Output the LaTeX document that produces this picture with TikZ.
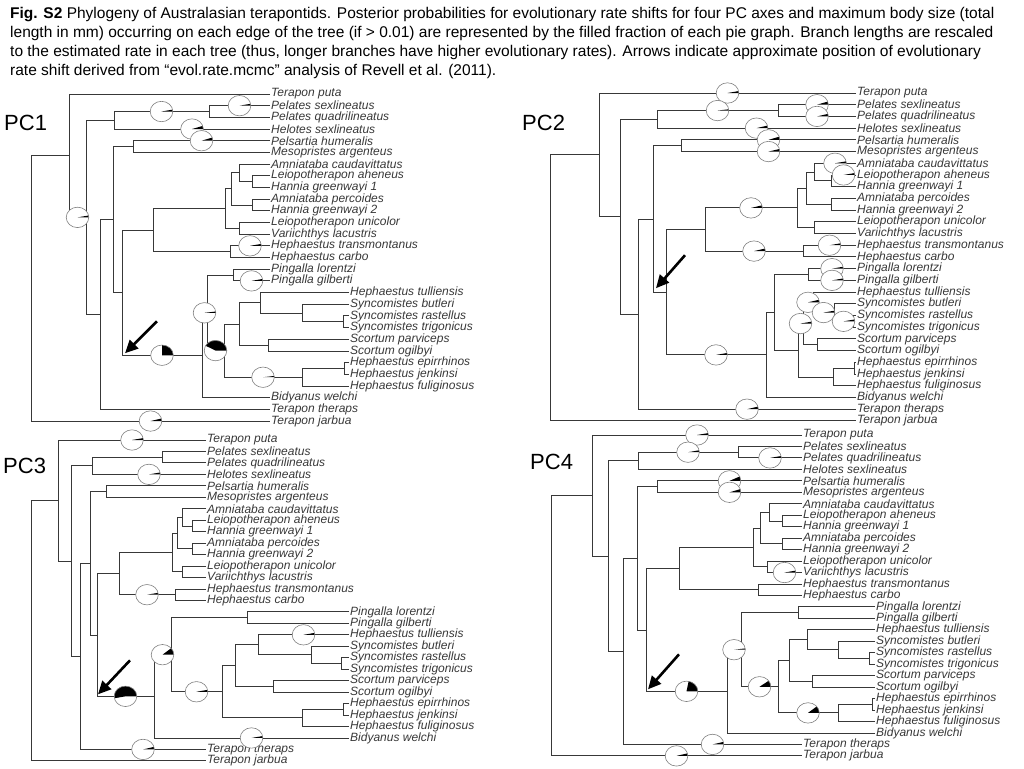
\documentclass[tikz,border=0pt]{standalone}
\usepackage{fontspec}
\setmainfont{Liberation Sans}
\usetikzlibrary{calc,arrows.meta}

% altura de cada nodo interno (en filas de puntas)
\foreach \n/\i in {root/16.6410, puta/5.2820, mid/10.5640, hel/2.25, pel/1.5,
  the/18.8779, pmb/10.7559, pm/4.5, big/17.0117, up/11.6563, leio/9.8125,
  am/8.125, ac/6.75, lh1/7.5, ah2/9.5, lv/11.5, hc/13.5, bid/22.3672,
  pl/18.7344, ping/15.5, low/21.9688, ss/19.6875, tull/17.875, sb/18.75,
  rt/19.5, sc/21.5, ful/24.25, ej/23.5}
  {\expandafter\xdef\csname nodey\n\endcsname{\i}}

\tikzset{
  branch/.style={draw=black!78, line width=0.9pt},
  tiplabel/.style={anchor=west, inner sep=0pt, xshift=1pt, text=black!78,
    font=\fontsize{12}{12}\selectfont\itshape},
  pieedge/.style={draw=black!50, line width=0.6pt},
  shiftarrow/.style={-{Triangle[length=13pt,width=12pt]}, line width=2.6pt},
  panellabel/.style={anchor=west, inner sep=0pt, font=\fontsize{22}{24}\selectfont},
  caption/.style={anchor=north west, inner sep=0pt, align=left,
    font=\fontsize{15.5}{19}\selectfont},
}

% arbol: prefijo, y de la primera punta, paso, x puntas, x puntas largas, desde, hasta, x nodos
\newcommand{\phylotree}[8]{%
  \foreach \i in {0,...,28} {
    \pgfmathsetmacro\tipx{(\i>=#6 && \i<=#7) ? #5 : #4}
    \coordinate (#1t\i) at (\tipx, {#2+#3*\i});
  }
  \foreach \n/\x in {#8} {
    \edef\yi{\csname nodey\n\endcsname}
    \coordinate (#1\n) at (\x, {#2+#3*\yi});
  }
  \foreach \p/\a/\b in {root/puta/t28, puta/t0/mid, mid/hel/the, hel/pel/t3,
    pel/t1/t2, the/pmb/t27, pmb/pm/big, pm/t4/t5, big/up/bid, up/leio/hc,
    leio/am/lv, am/ac/ah2, ac/t6/lh1, lh1/t7/t8, ah2/t9/t10, lv/t11/t12,
    hc/t13/t14, bid/pl/t26, pl/ping/low, ping/t15/t16, low/ss/ful,
    ss/tull/sc, tull/t17/sb, sb/t18/rt, rt/t19/t20, sc/t21/t22, ful/ej/t25,
    ej/t23/t24}
    \draw[branch] (#1\a) -- (#1\p|-#1\a) -- (#1\p|-#1\b) -- (#1\b);
  \foreach \i/\s in {0/Terapon puta, 1/Pelates sexlineatus,
    2/Pelates quadrilineatus, 3/Helotes sexlineatus, 4/Pelsartia humeralis,
    5/Mesopristes argenteus, 6/Amniataba caudavittatus,
    7/Leiopotherapon aheneus, 8/Hannia greenwayi 1, 9/Amniataba percoides,
    10/Hannia greenwayi 2, 11/Leiopotherapon unicolor,
    12/Variichthys lacustris, 13/Hephaestus transmontanus,
    14/Hephaestus carbo, 15/Pingalla lorentzi, 16/Pingalla gilberti,
    17/Hephaestus tulliensis, 18/Syncomistes butleri,
    19/Syncomistes rastellus, 20/Syncomistes trigonicus,
    21/Scortum parviceps, 22/Scortum ogilbyi, 23/Hephaestus epirrhinos,
    24/Hephaestus jenkinsi, 25/Hephaestus fuliginosus, 26/Bidyanus welchi,
    27/Terapon theraps, 28/Terapon jarbua}
    \node[tiplabel] (#1l\i) at (#1t\i) {\s};
}

% pies sobre el centro de cada rama: padre/hijo/fraccion
\newcommand{\edgepies}[2]{%
  \foreach \p/\c/\f in {#2} {
    \coordinate (#1pie) at ($(#1\p|-#1\c)!0.5!(#1\c)$);
    \fill[white] (#1pie) ellipse[x radius=11.3pt, y radius=10.2pt];
    \fill[black] (#1pie) -- ++(0:11.3pt)
      arc[start angle=0, end angle=\f*360, x radius=11.3pt, y radius=10.2pt] -- cycle;
    \draw[pieedge] (#1pie) ellipse[x radius=11.3pt, y radius=10.2pt];
  }
}

\begin{document}
\begin{tikzpicture}[x=1pt, y=-1pt]
  \useasboundingbox (0,0) rectangle (1024,768);

  % Leyenda
  \node[caption] (cap) at (10,7) {\textbf{Fig. S2} Phylogeny of Australasian terapontids. Posterior probabilities for evolutionary rate shifts for four PC axes and maximum body size (total\\
  length in mm) occurring on each edge of the tree (if > 0.01) are represented by the filled fraction of each pie graph. Branch lengths are rescaled\\
  to the estimated rate in each tree (thus, longer branches have higher evolutionary rates). Arrows indicate approximate position of evolutionary\\
  rate shift derived from “evol.rate.mcmc” analysis of Revell et al. (2011).};

  % Arbol PC1
  \phylotree{A}{94}{11.68}{270}{349}{17}{25}{root/31, puta/69, mid/86,
    hel/114, pel/209, the/100, pmb/113, pm/133, big/122, up/153, leio/225,
    am/231, ac/239, lh1/252, ah2/252, lv/239, hc/230, bid/202, pl/207,
    ping/233, low/224, ss/239, tull/260, sb/302, rt/343, sc/268, ful/302,
    ej/344}
  \edgepies{A}{hel/pel/0.03, pel/t1/0.03, hel/t3/0.05, pm/t4/0.05,
    puta/mid/0.03, root/t28/0.04, hc/t13/0.03, ping/t16/0.03, bid/pl/0.02,
    pl/low/0.42, big/bid/0.25, low/ful/0.02}

  % Arbol PC2
  \phylotree{B}{93}{11.71}{856}{856}{0}{28}{root/550, puta/599, mid/620,
    hel/657, pel/778, the/638, pmb/653, pm/681, big/666, up/705, leio/797,
    am/806, ac/814, lh1/831, ah2/831, lv/814, hc/803, bid/766, pl/774,
    ping/808, low/798, ss/803, tull/813, sb/834, rt/853, sc/817, ful/833,
    ej/854}
  \edgepies{B}{puta/t0/0.03, hel/pel/0.02, pel/t1/0.05, pel/t2/0.04,
    hel/t3/0.04, pm/t4/0.05, pm/t5/0.04, ac/t6/0.03, lh1/t7/0.03,
    up/leio/0.04, up/hc/0.04, hc/t13/0.03, ping/t15/0.03, ping/t16/0.03,
    low/ss/0.03, ss/tull/0.04, tull/sb/0.03, sb/rt/0.03, big/bid/0.03,
    the/t27/0.04}

  % Arbol PC3
  \phylotree{C}{440}{11.46}{206}{349}{15}{26}{root/31, puta/58, mid/71,
    hel/92, pel/162, the/80, pmb/90, pm/106, big/97, up/119, leio/172,
    am/177, ac/182, lh1/192, ah2/192, lv/182, hc/175, bid/154, pl/171,
    ping/247, low/222, ss/235, tull/258, sb/311, rt/341, sc/273, ful/302,
    ej/343}
  \edgepies{C}{puta/t0/0.03, hel/t3/0.03, up/hc/0.03, big/bid/0.53,
    bid/pl/0.11, pl/low/0.03, tull/t17/0.03, bid/t26/0.03, the/t27/0.04}

  % Arbol PC4
  \phylotree{D}{435}{11.46}{802}{875}{15}{26}{root/551, puta/592, mid/608,
    hel/638, pel/738, the/623, pmb/637, pm/657, big/646, up/679, leio/753,
    am/760, ac/769, lh1/782, ah2/782, lv/767, hc/758, bid/727, pl/741,
    ping/798, low/778, ss/789, tull/807, sb/838, rt/869, sc/812, ful/838,
    ej/872}
  \edgepies{D}{puta/t0/0.03, hel/pel/0.03, pel/t2/0.03, pm/t4/0.07,
    pm/t5/0.05, lv/t12/0.03, big/bid/0.22, bid/pl/0.02, pl/low/0.1,
    low/ful/0.11, the/t27/0.04, root/t28/0.04}

  % Etiquetas de panel
  \node[panellabel] (pc1) at (4,123) {PC1};
  \node[panellabel] (pc2) at (522,123) {PC2};
  \node[panellabel] (pc3) at (3,466) {PC3};
  \node[panellabel] (pc4) at (530,462) {PC4};

  % Flechas del cambio de tasa
  \draw[shiftarrow] ($(Abig|-Abid)+(35,-34)$) -- ($(Abig|-Abid)+(3,-2)$);
  \draw[shiftarrow] ($(Bpmb|-Bbig)+(32,-37)$) -- ($(Bpmb|-Bbig)+(3,-4)$);
  \draw[shiftarrow] ($(Cbig|-Cbid)+(33,-36)$) -- ($(Cbig|-Cbid)+(1,-2)$);
  \draw[shiftarrow] ($(Dbig|-Dbid)+(33,-37)$) -- ($(Dbig|-Dbid)+(2,-2)$);
\end{tikzpicture}
\end{document}
